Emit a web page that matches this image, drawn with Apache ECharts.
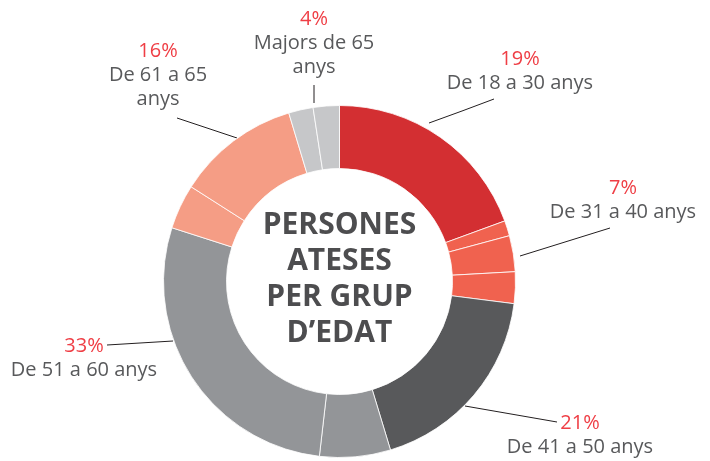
<!DOCTYPE html>
<html>
<head>
<meta charset="utf-8">
<script src="https://cdn.jsdelivr.net/npm/echarts@6/dist/echarts.min.js"></script>
<style>
  html, body { margin: 0; padding: 0; background: #fff; }
  #chart { width: 710px; height: 461px; }
</style>
</head>
<body>
<div id="chart"></div>
<script>
const groups = ["De 18 a 30 anys", "De 31 a 40 anys", "De 41 a 50 anys", "De 51 a 60 anys", "De 61 a 65 anys", "Majors de 65 anys"]
const groupLabels = ["De 18 a 30 anys", "De 31 a 40 anys", "De 41 a 50 anys", "De 51 a 60 anys", "De 61 a 65\nanys", "Majors de 65\nanys"]
const groupPercent = [19, 7, 21, 33, 16, 4]
// sub slices of each group (in %)
const subSlices = [
    [19.4],
    [1.4, 3.3, 2.9],
    [18.3],
    [6.5, 28.1],
    [4.1, 11.3],
    [2.25, 2.4]
]
const colors = ["#d32f32", "#f0624f", "#58595b", "#939598", "#f59d85", "#c6c7c9"]

// label placement (centre of text block) and leader lines
const labelPos = [
    { x: 520, y: 71, line: [[429, 123], [462, 111], [494, 99]] },
    { x: 623, y: 200, line: [[520, 256], [565, 242], [610, 228]] },
    { x: 580, y: 435, line: [[465, 406], [511, 414], [557, 422]] },
    { x: 84, y: 358, line: [[173, 341], [140, 343], [107, 345]] },
    { x: 158, y: 75, line: [[237, 138], [207, 128], [177, 118]] },
    { x: 314, y: 43, line: [[314, 103], [314, 94], [314, 85]] }
]

const chart = echarts.init(document.getElementById("chart"), null, { renderer: "canvas" })

const detailData = []
subSlices.forEach((parts, g) => {
    parts.forEach((v, i) => {
        detailData.push({ name: groups[g] + " " + (i + 1), value: v, itemStyle: { color: colors[g] } })
    })
})

const groupData = subSlices.map((parts, g) => ({
    name: groups[g],
    value: parts.reduce((a, b) => a + b, 0)
}))

const option = {
    animation: false,
    series: [
        {
            type: "pie",
            center: [339.5, 281.5],
            radius: [113, 176],
            startAngle: 90,
            silent: true,
            label: { show: false },
            labelLine: { show: false },
            itemStyle: { borderColor: "#ffffff", borderWidth: 0.8 },
            data: detailData
        },
        {
            type: "pie",
            center: [339.5, 281.5],
            radius: [113, 176],
            startAngle: 90,
            silent: true,
            itemStyle: { color: "rgba(0,0,0,0)" },
            label: {
                show: true,
                position: "outside",
                overflow: "none",
                fontFamily: "Open Sans",
                formatter: p => "{p|" + groupPercent[p.dataIndex] + "%}\n{n|" + groupLabels[p.dataIndex].split("\n").join("}\n{n|") + "}",
                rich: {
                    p: { fontFamily: "Open Sans", fontSize: 20, lineHeight: 24, color: "#ef3e45", align: "center" },
                    n: { fontFamily: "Open Sans", fontSize: 20, lineHeight: 24, color: "#58595b", align: "center" }
                }
            },
            labelLine: {
                show: true,
                smooth: false,
                lineStyle: { color: "#231f20", width: 1 }
            },
            labelLayout: params => {
                const pos = labelPos[params.dataIndex]
                return {
                    x: pos.x,
                    y: pos.y,
                    align: "center",
                    verticalAlign: "middle",
                    labelLinePoints: pos.line
                }
            },
            data: groupData
        }
    ],
    graphic: [
        {
            type: "text",
            x: 339.5,
            y: 279,
            style: {
                text: "PERSONES\nATESES\nPER GRUP\nD’EDAT",
                fontFamily: "Open Sans",
                fontWeight: "bold",
                fontSize: 30,
                lineHeight: 36,
                fill: "#4d4d4f",
                align: "center",
                verticalAlign: "middle"
            }
        }
    ]
}

chart.setOption(option)
</script>
</body>
</html>
